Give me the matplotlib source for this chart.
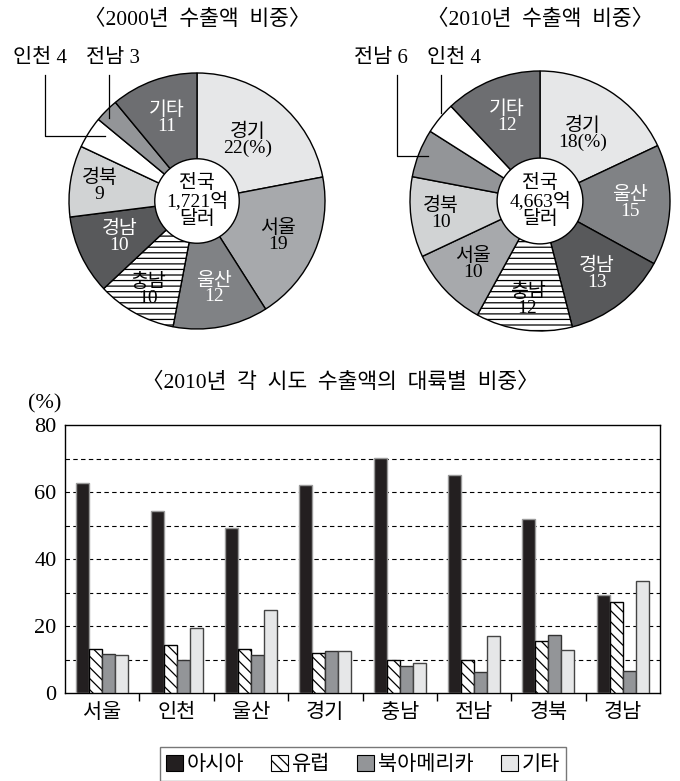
import numpy as np
import matplotlib
matplotlib.use("Agg")
import matplotlib.pyplot as plt
from matplotlib.patches import Circle, Patch

# ---------------- data ----------------
pie_names_2000 = ["경기", "서울", "울산", "충남", "경남", "경북", "인천", "전남", "기타"]
pie_vals_2000 = [22, 19, 12, 10, 10, 9, 4, 3, 11]
pie_names_2010 = ["경기", "울산", "경남", "충남", "서울", "경북", "전남", "인천", "기타"]
pie_vals_2010 = [18, 15, 13, 12, 10, 10, 6, 4, 12]
total_2000 = "1,721"
total_2010 = "4,663"

regions = ["서울", "인천", "울산", "경기", "충남", "전남", "경북", "경남"]
asia = [62.8, 54.4, 49.3, 62.1, 70.2, 65.1, 51.9, 29.2]
europe = [13.1, 14.2, 13.1, 12.0, 10.0, 10.0, 15.4, 27.3]
namerica = [11.5, 10.0, 11.3, 12.4, 8.2, 6.2, 17.2, 6.6]
others = [11.3, 19.4, 24.8, 12.4, 8.9, 16.9, 12.9, 33.3]
series_names = ["아시아", "유럽", "북아메리카", "기타"]

# ---------------- style ----------------
W, H = 680, 781
SERIF = ["Liberation Serif", "Noto Sans CJK KR"]
SANS = ["Noto Sans CJK KR", "DejaVu Sans"]
plt.rcParams["font.family"] = SANS
plt.rcParams["hatch.linewidth"] = 0.9

region_color = {
    "경기": "#e6e7e8", "서울": "#a7a9ac", "울산": "#808285", "충남": "white",
    "경남": "#58595b", "경북": "#d1d3d4", "인천": "white", "전남": "#939598",
    "기타": "#6d6e71",
}
white_text = {"울산", "경남", "기타"}

fig = plt.figure(figsize=(W / 100, H / 100), dpi=100)


def draw_pie(cx, cy, R, names, vals, total, title, label_r, outer):
    ax = fig.add_axes([(cx - R) / W, (H - cy - R) / H, 2 * R / W, 2 * R / H])
    wedges, _ = ax.pie(vals, startangle=90, counterclock=False,
                       colors=[region_color[n] for n in names],
                       wedgeprops=dict(edgecolor="black", linewidth=1.0))
    for w, n in zip(wedges, names):
        if n == "충남":
            w.set_hatch("---")
    ax.set_xlim(-1, 1)
    ax.set_ylim(-1, 1)
    ax.set_aspect("auto")
    ax.axis("off")
    ax.add_patch(Circle((0, 0), 0.33, facecolor="white", edgecolor="black",
                        linewidth=1.0, zorder=5))
    ax.text(0, 0, "전국\n" + total + "억\n달러", ha="center", va="center",
            family=SERIF, fontsize=14, zorder=6, linespacing=0.95)
    cum = 0
    for n, v in zip(names, vals):
        mid = np.deg2rad(90 - (cum + v / 2) * 3.6)
        cum += v
        if n not in label_r:
            continue
        r = label_r[n]
        suffix = "(%)" if n == "경기" else ""
        ax.text(r * np.cos(mid), r * np.sin(mid), n + "\n" + str(v) + suffix,
                ha="center", va="center", family=SERIF, fontsize=14,
                color="white" if n in white_text else "black",
                linespacing=0.92, zorder=4)

    def d(px, py):
        return (px - cx) / R, (cy - py) / R

    for (tx, txt), line in outer:
        x0, y0 = d(tx, 58)
        ax.text(x0, y0, txt, ha="left", va="center", family=SERIF,
                fontsize=15, clip_on=False)
        pts = [d(*p) for p in line]
        ax.plot([p[0] for p in pts], [p[1] for p in pts], color="black",
                lw=0.9, clip_on=False, zorder=6)
    fig.text(cx / W, 1 - 20 / H, title, ha="center", va="center",
             family=SERIF, fontsize=15.5)


v2000 = dict(zip(pie_names_2000, pie_vals_2000))
v2010 = dict(zip(pie_names_2010, pie_vals_2010))

draw_pie(197, 201, 128, pie_names_2000, pie_vals_2000, total_2000,
         "〈2000년  수출액  비중〉",
         {"경기": 0.62, "서울": 0.69, "울산": 0.70, "충남": 0.79, "경남": 0.67,
          "경북": 0.77, "기타": 0.69},
         [((13, "인천 %d" % v2000["인천"]), [(45, 75), (45, 136), (105, 136)]),
          ((86, "전남 %d" % v2000["전남"]), [(109, 75), (109, 118)])])

draw_pie(540, 201, 130, pie_names_2010, pie_vals_2010, total_2010,
         "〈2010년  수출액  비중〉",
         {"경기": 0.61, "울산": 0.69, "경남": 0.71, "충남": 0.77, "서울": 0.71,
          "경북": 0.77, "기타": 0.69},
         [((354, "전남 %d" % v2010["전남"]), [(397, 75), (397, 156), (428, 156)]),
          ((427, "인천 %d" % v2010["인천"]), [(441, 75), (441, 113)])])

# ---------------- bar chart ----------------
L, R_, T, B = 65, 660, 425, 693
bx = fig.add_axes([L / W, (H - B) / H, (R_ - L) / W, (B - T) / H])
x = np.arange(len(regions))
bw = 0.175
series = [asia, europe, namerica, others]
faces = ["#231f20", "white", "#939598", "#e6e7e8"]
edges = ["#9a9a9a", "black", "#333333", "#444444"]
hatches = [None, "\\\\\\", None, None]
for i, (vals, fc, ec, hc) in enumerate(zip(series, faces, edges, hatches)):
    bx.bar(x + (i - 1.5) * bw, vals, bw, color=fc, edgecolor=ec,
           linewidth=1.0, hatch=hc, zorder=3)

bx.set_xlim(-0.5, len(regions) - 0.5)
bx.set_ylim(0, 80)
yt = [0, 20, 40, 60, 80]
bx.set_yticks(yt)
bx.set_yticklabels([str(v) for v in yt], family=SERIF, fontsize=16)
for gy in range(10, 80, 10):
    bx.axhline(gy, color="black", lw=0.8, ls=(0, (4, 3)), zorder=1)
bx.set_xticks(x)
bx.set_xticklabels(regions, fontsize=15)
bx.set_xticks(x[:-1] + 0.5, minor=True)
bx.tick_params(axis="x", which="major", length=0, pad=6)
bx.tick_params(axis="x", which="minor", length=6, direction="out", width=1)
bx.tick_params(axis="y", length=0, pad=6)
for s in bx.spines.values():
    s.set_linewidth(1.0)

fig.text(340 / W, 1 - 383 / H, "〈2010년  각  시도  수출액의  대륙별  비중〉",
         ha="center", va="center", family=SERIF, fontsize=15.5)
fig.text(45 / W, 1 - 404 / H, "(%)", ha="center", va="center",
         family=SERIF, fontsize=16)

handles = [Patch(facecolor=fc, edgecolor="black", hatch=hc, linewidth=0.8)
           for fc, hc in zip(faces, hatches)]
leg = fig.legend(handles, series_names, loc="center",
                 bbox_to_anchor=(363 / W, 1 - 764 / H), ncol=4, fontsize=15,
                 frameon=True, fancybox=False, edgecolor="#555555",
                 handlelength=0.8, handleheight=0.8, handletextpad=0.2,
                 columnspacing=1.3, borderpad=0.3, borderaxespad=0.2)
leg.get_frame().set_linewidth(1.0)

fig.savefig("out.png", dpi=100)
